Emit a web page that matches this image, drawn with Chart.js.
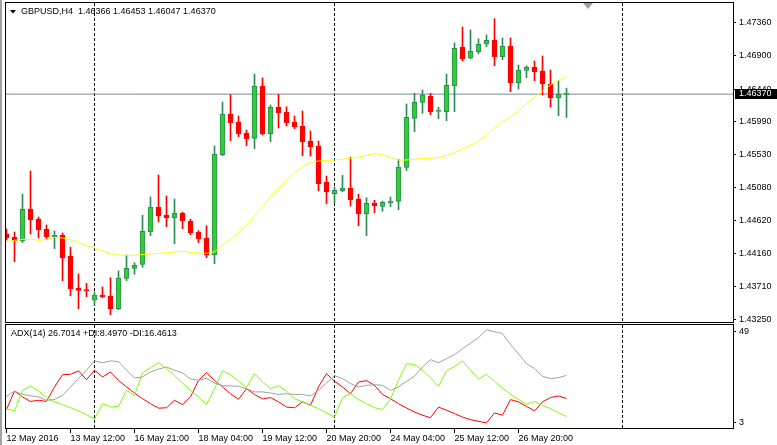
<!DOCTYPE html>
<html>
<head>
<meta charset="utf-8">
<script src="https://cdn.jsdelivr.net/npm/chart.js@4.4.1/dist/chart.umd.min.js"></script>
<style>
  html, body { margin: 0; padding: 0; background: #fff; }
  #wrap { position: relative; width: 777px; height: 445px; overflow: hidden; background: #fff; }
  #main { position: absolute; left: 0; top: 0; }
  #adx { position: absolute; left: 0; top: 323px; }
</style>
</head>
<body>
<div id="wrap">
  <canvas id="main" width="777" height="323"></canvas>
  <canvas id="adx" width="777" height="122"></canvas>
</div>
<script>
// GBPUSD H4 candles, 12 May 2016 .. 27 May 2016
var opens = [1.44432,1.44386,1.44339,1.44779,1.44640,1.44501,1.44391,1.44414,1.44127,1.43684,
  1.43656,1.43514,1.43587,1.43573,1.43397,1.43818,1.43957,1.44012,1.44464,1.44806,
  1.44696,1.44658,1.44723,1.44612,1.44460,1.44377,1.44145,1.45531,1.46095,1.45984,
  1.45832,1.45758,1.46483,1.45822,1.46192,1.46123,1.45984,1.45929,1.45721,1.45652,
  1.45153,1.44991,1.45032,1.45070,1.44917,1.44713,1.44862,1.44816,1.44866,1.44885,
  1.45356,1.46035,1.46257,1.46344,1.46132,1.46127,1.46487,1.47023,1.46867,1.46958,
  1.47061,1.47120,1.46889,1.47037,1.46529,1.46700,1.46746,1.46691,1.46511,1.46321,
  1.46366];
var highs = [1.44501,1.44460,1.44986,1.45305,1.44668,1.44557,1.44474,1.44446,1.44248,1.43878,
  1.43749,1.43629,1.43698,1.43827,1.43920,1.44141,1.44035,1.44691,1.44945,1.45250,
  1.44959,1.44917,1.44737,1.44640,1.44478,1.44547,1.45652,1.46261,1.46362,1.46067,
  1.45873,1.46649,1.46594,1.46220,1.46368,1.46196,1.46067,1.46137,1.45859,1.45721,
  1.45236,1.45083,1.45246,1.45495,1.44982,1.44935,1.44899,1.44889,1.44945,1.45467,
  1.46234,1.46382,1.46428,1.46382,1.46188,1.46649,1.47079,1.47300,1.47259,1.47138,
  1.47190,1.47415,1.47148,1.47148,1.46774,1.46764,1.46829,1.46899,1.46705,1.46556,
  1.46453];
var lows = [1.44349,1.44048,1.44312,1.44432,1.44377,1.44363,1.44229,1.43785,1.43577,1.43397,
  1.43563,1.43439,1.43550,1.43314,1.43383,1.43785,1.43874,1.43971,1.44409,1.44599,
  1.44533,1.44298,1.44506,1.44423,1.44312,1.44104,1.44021,1.45517,1.45725,1.45780,
  1.45656,1.45614,1.45804,1.45711,1.45901,1.45929,1.45891,1.45517,1.45513,1.45032,
  1.44852,1.44862,1.45018,1.44820,1.44547,1.44409,1.44727,1.44747,1.44810,1.44769,
  1.45309,1.45850,1.46105,1.46085,1.46030,1.46002,1.46127,1.46829,1.46861,1.46930,
  1.47027,1.46764,1.46847,1.46404,1.46441,1.46598,1.46556,1.46358,1.46192,1.46071,
  1.46047];
var closes = [1.44381,1.44339,1.44774,1.44630,1.44492,1.44395,1.44418,1.44104,1.43674,1.43652,
  1.43647,1.43587,1.43559,1.43397,1.43823,1.43957,1.43999,1.44470,1.44806,1.44686,
  1.44658,1.44719,1.44617,1.44450,1.44367,1.44145,1.45537,1.46095,1.45974,1.45822,
  1.45753,1.46483,1.45818,1.46188,1.46113,1.45974,1.45919,1.45711,1.45642,1.45129,
  1.45014,1.45038,1.45065,1.44907,1.44713,1.44858,1.44824,1.44871,1.44889,1.45356,
  1.46049,1.46257,1.46358,1.46127,1.46141,1.46493,1.47005,1.46861,1.46964,1.47061,
  1.47116,1.46889,1.47037,1.46529,1.46700,1.46742,1.46677,1.46515,1.46321,1.46368,
  1.46370];
// yellow moving average
var ma = [1.44326,1.44345,1.44356,1.44359,1.44345,1.44359,1.44386,1.44377,1.44356,1.44314,
  1.44273,1.44238,1.44197,1.44162,1.44141,1.44137,1.44137,1.44148,1.44155,1.44165,
  1.44173,1.44183,1.44193,1.44179,1.44169,1.44165,1.44187,1.44276,1.44359,1.44450,
  1.44557,1.44682,1.44810,1.44949,1.45065,1.45167,1.45277,1.45368,1.45423,1.45444,
  1.45451,1.45458,1.45467,1.45481,1.45499,1.45520,1.45548,1.45527,1.45492,1.45458,
  1.45458,1.45467,1.45478,1.45481,1.45492,1.45520,1.45564,1.45610,1.45659,1.45721,
  1.45804,1.45901,1.45991,1.46053,1.46137,1.46240,1.46331,1.46414,1.46497,1.46566,
  1.46608];
// ADX(14) window
var adx = [17.5,19.7,18.3,17.7,17.2,15.7,16.0,17.9,21.6,25.3,
  29.0,33.1,32.3,33.1,32.8,29.0,25.6,26.0,28.2,29.5,
  30.4,29.0,27.8,25.1,24.5,25.4,23.3,22.2,22.0,21.9,
  20.8,19.4,19.4,18.9,18.3,18.6,18.3,18.3,17.6,20.1,
  23.3,26.6,25.3,23.1,21.6,22.3,22.6,22.3,20.1,21.6,
  24.1,26.3,30.4,33.7,32.3,34.1,35.9,38.5,41.0,43.4,
  46.9,46.0,45.2,40.4,36.3,31.9,29.7,26.3,25.3,25.7,
  26.7];
var plusDi = [12.0,11.0,20.1,22.0,19.8,16.9,15.0,13.8,12.4,11.0,
  9.3,7.4,14.2,12.7,13.0,20.1,17.9,27.8,30.1,32.3,
  29.7,26.7,23.3,20.1,17.2,13.9,20.8,28.7,27.0,24.2,
  21.3,27.5,23.8,20.8,22.2,19.7,16.4,15.0,13.5,12.0,
  10.1,8.3,16.9,18.6,16.0,14.2,12.4,11.6,16.4,24.5,
  31.9,31.5,29.0,25.7,21.9,28.7,30.7,33.1,29.0,25.0,
  27.2,24.1,21.1,18.3,16.1,13.9,15.2,13.5,12.0,10.2,
  8.5];
var minusDi = [11.6,19.8,17.2,15.2,15.7,15.2,21.6,27.0,27.2,28.7,
  24.8,29.0,26.0,28.2,24.5,21.6,18.9,16.4,14.2,12.2,
  12.4,15.7,13.8,17.2,24.5,27.9,24.5,21.6,18.6,16.1,
  20.8,18.3,16.3,16.9,15.0,12.7,12.4,15.0,13.5,21.6,
  27.5,24.1,21.6,18.6,23.8,24.4,22.3,18.3,16.4,14.2,
  12.3,10.5,9.1,8.0,12.7,11.3,9.8,8.3,7.1,6.4,
  5.7,10.1,9.1,16.0,15.0,13.0,11.0,15.0,16.9,17.6,
  16.5];

var priceTicks = [1.47360,1.46900,1.46440,1.45990,1.45530,1.45080,1.44620,1.44160,1.43710,1.43250];
var timeIdx = [0, 8, 16, 24, 32, 40, 48, 56, 64];
var timeLabels = ['12 May 2016','13 May 12:00','16 May 21:00','18 May 04:00','19 May 12:00',
  '20 May 20:00','24 May 04:00','25 May 12:00','26 May 20:00'];
var sepIdx = [11, 41, 77];           // weekly period separators
var adxTickVals = [46, 6];
var adxTickText = ['49', '3'];
var headerText = 'GBPUSD,H4  1.46366 1.46453 1.46047 1.46370';
var adxText = 'ADX(14) 26.7014 +DI:8.4970 -DI:16.4613';

var xMin = -0.1875, xMax = 90.8125;
var priceMin = 1.43213, priceMax = 1.47633;
var lastClose = closes[closes.length - 1];

var FONT = '"Liberation Sans", Arial, sans-serif';
var axisFont = { family: FONT, size: 9, lineHeight: 1.2 };
var BULL = '#32cd32', BULL_EDGE = '#2e8b57', BEAR = '#ff0000';

var bull = opens.map(function (o, i) { return closes[i] >= o; });

function windowEdge(ctx, h) {
  ctx.fillStyle = '#a3a3a3';
  ctx.fillRect(0, 0, 2, h);
}

function separators(chart) {
  var ctx = chart.ctx, a = chart.chartArea, x = chart.scales.x;
  ctx.save();
  ctx.beginPath();
  ctx.rect(a.left, a.top, a.right - a.left, a.bottom - a.top);
  ctx.clip();
  ctx.strokeStyle = '#000';
  ctx.lineWidth = 1;
  ctx.setLineDash([3, 2]);
  sepIdx.forEach(function (v) {
    var px = x.getPixelForValue(v);
    ctx.beginPath();
    ctx.moveTo(px, a.top);
    ctx.lineTo(px, a.bottom);
    ctx.stroke();
  });
  ctx.restore();
}

var mainDeco = {
  id: 'mainDeco',
  beforeDatasetsDraw: function (chart) { separators(chart); },
  afterDraw: function (chart) {
    var ctx = chart.ctx, a = chart.chartArea, y = chart.scales.y;
    ctx.save();
    windowEdge(ctx, chart.height);
    ctx.strokeStyle = '#000';
    ctx.lineWidth = 1;
    ctx.strokeRect(Math.floor(a.left) + 0.5, Math.floor(a.top) - 0.5,
      Math.floor(a.right) - Math.floor(a.left), Math.floor(a.bottom) - Math.floor(a.top) + 1);
    // header
    ctx.fillStyle = '#000';
    ctx.beginPath();
    ctx.moveTo(10, 10); ctx.lineTo(16, 10); ctx.lineTo(13, 13.5); ctx.closePath();
    ctx.fill();
    ctx.font = '9px ' + FONT;
    ctx.textBaseline = 'middle';
    ctx.textAlign = 'left';
    ctx.fillText(headerText, 21, 12);
    // chart shift marker
    ctx.fillStyle = '#a0a0a0';
    ctx.beginPath();
    ctx.moveTo(583, 3); ctx.lineTo(593, 3); ctx.lineTo(588, 9); ctx.closePath();
    ctx.fill();
    // last price box
    var yc = Math.round(y.getPixelForValue(lastClose));
    ctx.fillStyle = '#000';
    ctx.fillRect(a.right + 2, yc - 5, chart.width - a.right - 2, 10);
    ctx.fillStyle = '#fff';
    ctx.fillText(lastClose.toFixed(5), a.right + 6, yc);
    ctx.restore();
  }
};

var adxDeco = {
  id: 'adxDeco',
  beforeDatasetsDraw: function (chart) { separators(chart); },
  afterDraw: function (chart) {
    var ctx = chart.ctx, a = chart.chartArea;
    ctx.save();
    windowEdge(ctx, chart.height);
    ctx.strokeStyle = '#000';
    ctx.lineWidth = 1;
    ctx.strokeRect(Math.floor(a.left) + 0.5, Math.floor(a.top) - 0.5,
      Math.floor(a.right) - Math.floor(a.left), Math.floor(a.bottom) - Math.floor(a.top));
    ctx.fillStyle = '#000';
    ctx.font = '9px ' + FONT;
    ctx.textBaseline = 'middle';
    ctx.textAlign = 'left';
    ctx.fillText(adxText, 11, 10.5);
    ctx.restore();
  }
};

function pts(arr) { return arr.map(function (v, i) { return { x: i, y: v }; }); }

new Chart(document.getElementById('main'), {
  type: 'bar',
  data: {
    datasets: [
      { type: 'line', label: 'MA', data: pts(ma), borderColor: '#ffff00', borderWidth: 1,
        pointRadius: 0, tension: 0, order: 1 },
      { label: 'body', data: opens.map(function (o, i) { return { x: i, y: [o, closes[i]] }; }),
        backgroundColor: bull.map(function (b) { return b ? BULL : BEAR; }),
        borderColor: bull.map(function (b) { return b ? BULL_EDGE : BEAR; }),
        borderWidth: 1, borderSkipped: false, barThickness: 5, maxBarThickness: 5,
        minBarLength: 1, grouped: false, order: 2 },
      { label: 'wick', data: lows.map(function (l, i) { return { x: i, y: [l, highs[i]] }; }),
        backgroundColor: bull.map(function (b) { return b ? BULL_EDGE : BEAR; }),
        borderWidth: 0, barThickness: 1, maxBarThickness: 1, grouped: false, order: 3 },
      { type: 'line', label: 'bid', data: [{ x: xMin, y: lastClose }, { x: xMax, y: lastClose }],
        borderColor: '#778899', borderWidth: 1, pointRadius: 0, order: 4 }
    ]
  },
  options: {
    responsive: false, animation: false, events: [], devicePixelRatio: 1,
    layout: { padding: { left: 5, top: 3, right: 0, bottom: 1 } },
    plugins: { legend: { display: false }, tooltip: { enabled: false } },
    scales: {
      x: { type: 'linear', display: false, min: xMin, max: xMax, offset: false },
      y: {
        type: 'linear', position: 'right', min: priceMin, max: priceMax,
        afterBuildTicks: function (s) { s.ticks = priceTicks.map(function (v) { return { value: v }; }); },
        afterFit: function (s) { s.width = 44; s.paddingTop = 0; s.paddingBottom = 0; },
        ticks: { callback: function (v) { return v.toFixed(5); }, font: axisFont, color: '#000',
          padding: 3, autoSkip: false },
        grid: { drawOnChartArea: false, drawTicks: true, tickLength: 3, color: '#000' },
        border: { display: false }
      }
    }
  },
  plugins: [mainDeco]
});

new Chart(document.getElementById('adx'), {
  type: 'line',
  data: {
    datasets: [
      { label: 'ADX', data: pts(adx), borderColor: '#a0a0a0', borderWidth: 1, pointRadius: 0 },
      { label: '+DI', data: pts(plusDi), borderColor: '#7cfc00', borderWidth: 1, pointRadius: 0 },
      { label: '-DI', data: pts(minusDi), borderColor: '#ff0000', borderWidth: 1, pointRadius: 0 }
    ]
  },
  options: {
    responsive: false, animation: false, events: [], devicePixelRatio: 1,
    layout: { padding: { left: 5, top: 2, right: 0, bottom: 0 } },
    plugins: { legend: { display: false }, tooltip: { enabled: false } },
    scales: {
      x: {
        type: 'linear', min: xMin, max: xMax, offset: false,
        afterBuildTicks: function (s) { s.ticks = timeIdx.map(function (v) { return { value: v }; }); },
        afterFit: function (s) { s.height = 16; s.paddingLeft = 0; s.paddingRight = 0; },
        ticks: { callback: function (v, i) { return timeLabels[i]; }, align: 'start',
          maxRotation: 0, minRotation: 0, autoSkip: false, padding: 0, font: axisFont, color: '#000' },
        grid: { drawOnChartArea: false, drawTicks: true, tickLength: 4, color: '#000' },
        border: { display: false }
      },
      y: {
        type: 'linear', position: 'right', min: 3, max: 49,
        afterBuildTicks: function (s) { s.ticks = adxTickVals.map(function (v) { return { value: v }; }); },
        afterFit: function (s) { s.width = 44; s.paddingTop = 0; s.paddingBottom = 0; },
        ticks: { callback: function (v, i) { return adxTickText[i]; }, font: axisFont, color: '#000',
          padding: 3, autoSkip: false },
        grid: { drawOnChartArea: false, drawTicks: true, tickLength: 3, color: '#000' },
        border: { display: false }
      }
    }
  },
  plugins: [adxDeco]
});
</script>
</body>
</html>
